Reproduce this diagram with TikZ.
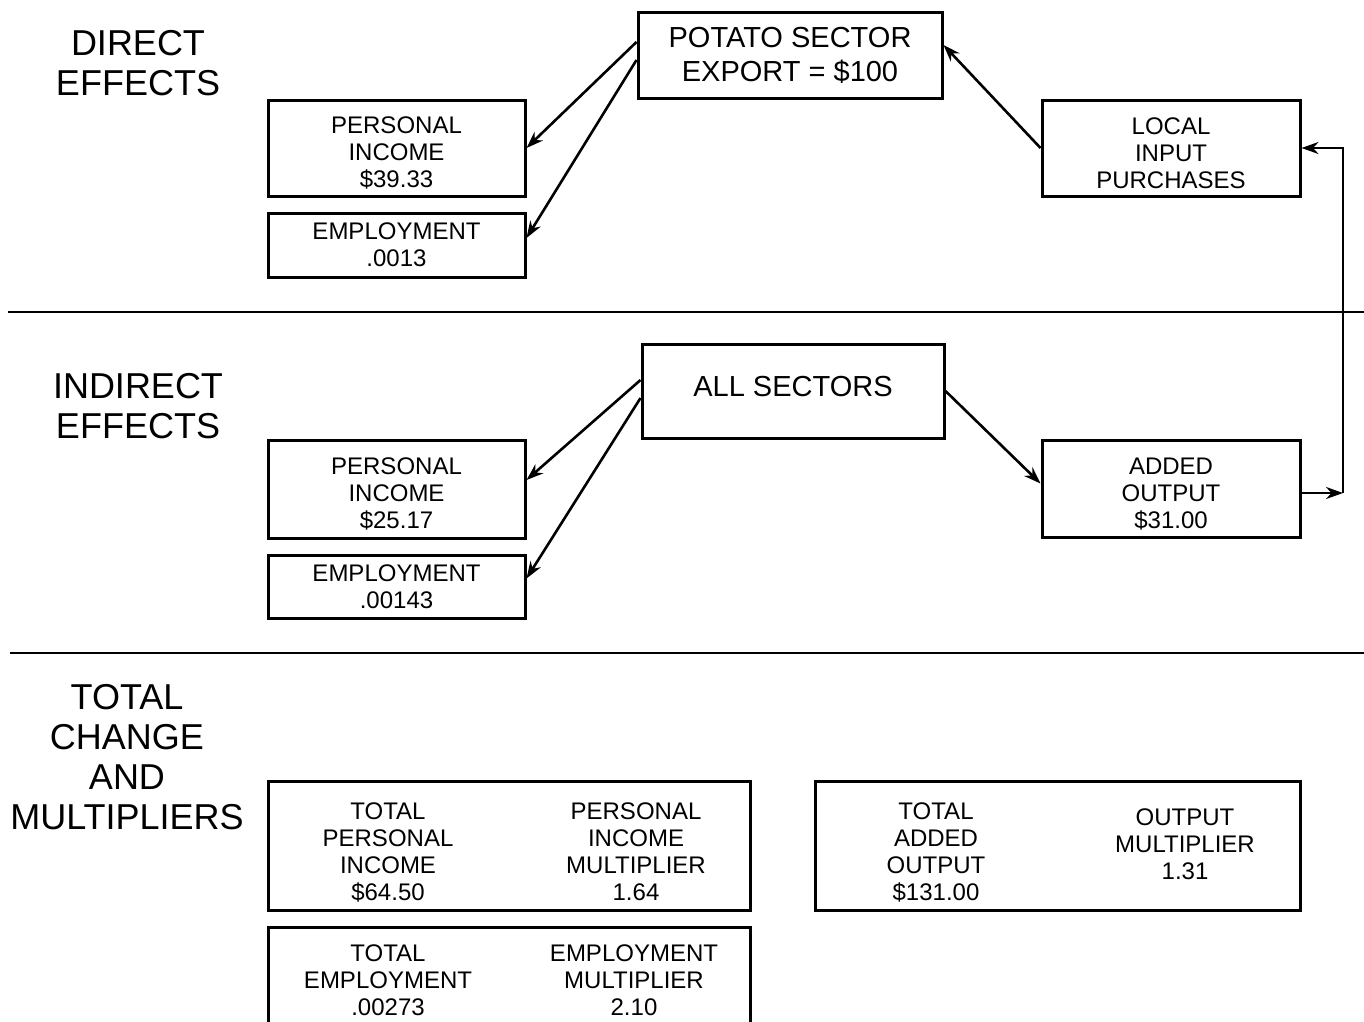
\documentclass[tikz,border=0pt]{standalone}
\usepackage{fontspec}
\setmainfont{Liberation Sans}
\usetikzlibrary{arrows.meta}
\tikzset{
BOX/.style ={draw=black,line width=3pt,line join=miter,inner sep=0pt,align=center,font=\fontsize{24}{27}\selectfont},
BOXLOW/.style ={BOX,text height=81pt},
BIGBOX/.style ={BOX,font=\fontsize{29}{34}\selectfont},
CELL/.style ={align=center,inner sep=0pt,font=\fontsize{24}{27}\selectfont},
HEAD/.style ={align=center,inner sep=0pt,font=\fontsize{36}{40}\selectfont},
ARR/.style ={draw=black,line width=2.6pt,-{Stealth[length=17pt,width=12pt]}},
RULE/.style ={draw=black,line width=2.2pt},
}

\begin{document}
\begin{tikzpicture}[x=1pt,y=-1pt] %potato sector multipliers
	\clip (0,0) rectangle (1364,1021);
	% section headings
	\node[HEAD] (hdir) at (138,63) {DIRECT\\EFFECTS};
	\node[HEAD] (hind) at (138,406) {INDIRECT\\EFFECTS};
	\node[HEAD] (htot) at (127,757) {TOTAL\\CHANGE\\AND\\MULTIPLIERS};
	\path[RULE] (8,312) -- (1364,312);
	\path[RULE] (10,653) -- (1364,653);
	% direct
	\node[BIGBOX, minimum width=304, minimum height=86] (potato) at (790,55) {POTATO SECTOR\\EXPORT = \$100};
	\node[BOXLOW, minimum width=257, minimum height=96] (pidir) at (396.5,148) {PERSONAL\\INCOME\\\$39.33};
	\node[BOX, minimum width=257, minimum height=64] (emdir) at (396.5,245) {EMPLOYMENT\\.0013};
	\node[BOXLOW, minimum width=258, minimum height=96] (local) at (1171,148) {LOCAL\\INPUT\\PURCHASES};
	% indirect
	\node[BIGBOX, minimum width=302, minimum height=94] (allsec) at (793,391) {};
	\node[BIGBOX, draw=none] (alltext) at (793,387) {ALL SECTORS};
	\node[BOXLOW, minimum width=257, minimum height=98] (piind) at (396.5,489) {PERSONAL\\INCOME\\\$25.17};
	\node[BOX, minimum width=257, minimum height=63] (emind) at (396.5,586.5) {EMPLOYMENT\\.00143};
	\node[BOXLOW, minimum width=258, minimum height=97] (added) at (1171,488.5) {ADDED\\OUTPUT\\\$31.00};
	% totals
	\node[BOX, minimum width=482, minimum height=129] (totpi) at (509,845.5) {};
	\node[CELL] (tpitext) at (388,852) {TOTAL\\PERSONAL\\INCOME\\\$64.50};
	\node[CELL] (pimult) at (636,852) {PERSONAL\\INCOME\\MULTIPLIER\\1.64};
	\node[BOX, minimum width=485, minimum height=129] (totout) at (1057.5,845.5) {};
	\node[CELL] (taotext) at (936,852) {TOTAL\\ADDED\\OUTPUT\\\$131.00};
	\node[CELL] (outmult) at (1185,844.5) {OUTPUT\\MULTIPLIER\\1.31};
	\node[BOX, minimum width=482, minimum height=120] (totem) at (509,987) {};
	\node[CELL] (temtext) at (388,980) {TOTAL\\EMPLOYMENT\\.00273};
	\node[CELL] (emmult) at (634,980) {EMPLOYMENT\\MULTIPLIER\\2.10};
	% arrows
	\path[ARR] ([yshift=13pt]potato.west) -- (pidir.east);
	\path[ARR] ([yshift=-5pt]potato.west) -- ([yshift=7pt]emdir.east);
	\path[ARR] (local.west) -- ([yshift=10pt]potato.east);
	\path[ARR] ([yshift=11pt]allsec.west) -- ([yshift=9pt]piind.east);
	\path[ARR] ([yshift=-7pt]allsec.west) -- ([yshift=8pt]emind.east);
	\path[ARR] (allsec.east) -- ([yshift=5pt]added.west);
	\coordinate (loop) at (1343,493);
	\path[ARR] ([yshift=-4.5pt]added.east) -- (loop);
	\path[ARR] (loop) |- (local.east);
\end{tikzpicture}
\end{document}
